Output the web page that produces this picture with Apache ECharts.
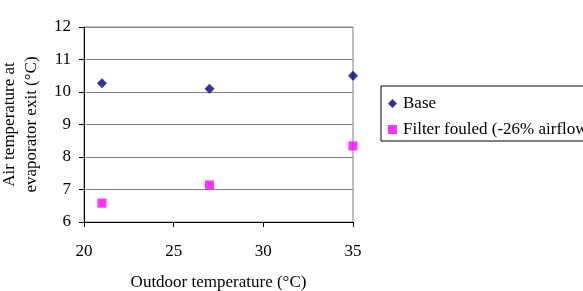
<!DOCTYPE html>
<html>
<head>
<meta charset="utf-8">
<script src="https://cdn.jsdelivr.net/npm/echarts@6/dist/echarts.min.js"></script>
<style>
  html, body { margin: 0; padding: 0; background: #fff; }
  #chart { width: 583px; height: 291px; }
</style>
</head>
<body>
<div id="chart"></div>
<script>
const outdoorTemps = [21, 27, 35];
const baseValues = [10.27, 10.1, 10.5];
const fouledValues = [6.58, 7.14, 8.34];
const seriesNames = ['Base', 'Filter fouled (-26% airflow)'];

const font = '"Liberation Serif", "Times New Roman", serif';

const chart = echarts.init(document.getElementById('chart'));

chart.setOption({
  backgroundColor: '#fff',
  animation: false,
  textStyle: { fontFamily: font },
  grid: {
    left: 84,
    right: 230,
    top: 27,
    bottom: 69,
    outerBoundsMode: 'none',
    containLabel: false,
    show: true,
    borderColor: '#808080',
    borderWidth: 1,
  },
  legend: {
    orient: 'vertical',
    left: 381,
    top: 86,
    data: [
      { name: seriesNames[0], icon: 'diamond' },
      { name: seriesNames[1], icon: 'rect' },
    ],
    itemWidth: 9,
    itemHeight: 9,
    itemGap: 9,
    padding: [9, 7, 3, 7],
    borderColor: '#000',
    borderWidth: 1,
    borderRadius: 0,
    textStyle: { fontFamily: font, fontSize: 17, color: '#000', padding: [0, 0, 0, 1] },
  },
  xAxis: {
    type: 'value',
    min: 20,
    max: 35,
    interval: 5,
    name: 'Outdoor temperature (°C)',
    nameLocation: 'middle',
    nameGap: 52,
    nameTextStyle: { fontFamily: font, fontSize: 17, color: '#000' },
    axisLine: { onZero: false, lineStyle: { color: '#000', width: 1 } },
    axisTick: { show: true, length: 5, lineStyle: { color: '#000' } },
    axisLabel: { fontFamily: font, fontSize: 17, color: '#000', margin: 21 },
    splitLine: { show: false },
  },
  yAxis: {
    type: 'value',
    min: 6,
    max: 12,
    interval: 1,
    name: 'Air temperature at\nevaporator exit (°C)',
    nameLocation: 'middle',
    nameRotate: 90,
    nameGap: 41,
    nameTextStyle: { fontFamily: font, fontSize: 17, color: '#000', lineHeight: 22 },
    axisLine: { show: true, onZero: false, lineStyle: { color: '#000', width: 1 } },
    axisTick: { show: true, length: 5, lineStyle: { color: '#000' } },
    axisLabel: { fontFamily: font, fontSize: 17, color: '#000', margin: 13 },
    splitLine: { show: true, lineStyle: { color: '#808080', width: 1 } },
  },
  series: [
    {
      name: seriesNames[0],
      type: 'scatter',
      symbol: 'diamond',
      symbolSize: 10,
      itemStyle: { color: '#000080' },
      data: outdoorTemps.map((x, i) => [x, baseValues[i]]),
    },
    {
      name: seriesNames[1],
      type: 'scatter',
      symbol: 'rect',
      symbolSize: 9,
      itemStyle: { color: '#ff00ff' },
      data: outdoorTemps.map((x, i) => [x, fouledValues[i]]),
    },
  ],
});
</script>
</body>
</html>
